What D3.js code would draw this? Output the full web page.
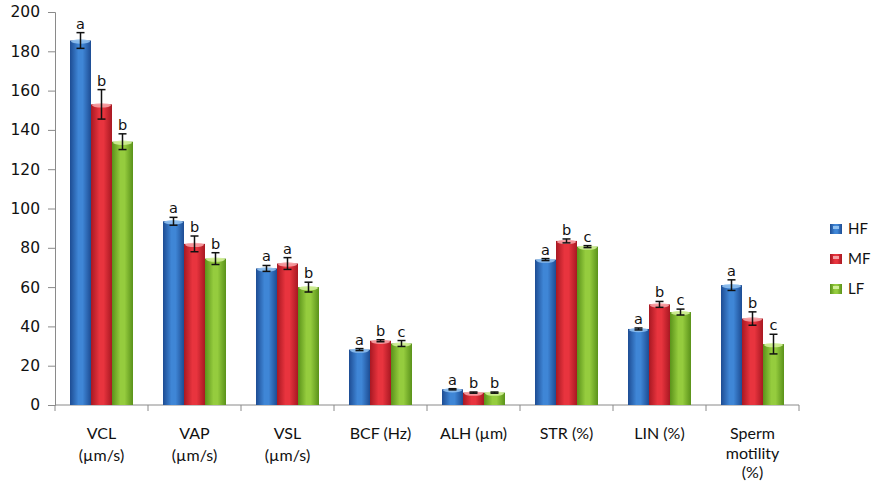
<!DOCTYPE html>
<html><head><meta charset="utf-8">
<script src="https://cdn.jsdelivr.net/npm/d3@7"></script>
<style>body{margin:0;background:#fff}svg{display:block}</style>
</head><body>
<script>
const categories = [["VCL","(µm/s)"],["VAP","(µm/s)"],["VSL","(µm/s)"],["BCF (Hz)"],["ALH (µm)"],["STR (%)"],["LIN (%)"],["Sperm","motility","(%)"]];
const seriesNames = ["HF","MF","LF"];
const HF = [185.5, 93.5, 69.5, 28.2, 8.0, 74.0, 38.7, 61.0];
const MF = [153.0, 82.0, 72.0, 32.7, 6.3, 83.5, 51.2, 44.0];
const LF = [134.0, 74.5, 60.0, 31.3, 6.3, 80.6, 47.3, 31.0];
const HFerr = [4.0, 2.0, 1.5, 0.5, 0.3, 0.5, 0.5, 2.7];
const MFerr = [7.5, 4.0, 3.0, 0.5, 0.3, 1.0, 1.5, 3.4];
const LFerr = [4.0, 3.0, 2.5, 1.5, 0.3, 0.5, 1.5, 5.0];
const HFsig = ["a","a","a","a","a","a","a","a"];
const MFsig = ["b","b","a","b","b","b","b","b"];
const LFsig = ["b","b","b","c","b","c","c","c"];
const yTicks = [0,20,40,60,80,100,120,140,160,180,200];

const W = 877, H = 486;
const svg = d3.select("body").append("svg").attr("width", W).attr("height", H);
const defs = svg.append("defs");
const palette = [
  {edge:"#1d4c93", mid:"#3f86d6", light:"#8fc0f0"},
  {edge:"#a81822", mid:"#e8343e", light:"#f7a0a4"},
  {edge:"#5a921a", mid:"#95cc3e", light:"#d2ef98"}
];
palette.forEach((p,i)=>{
  const g = defs.append("linearGradient").attr("id","g"+i).attr("x1","0").attr("x2","1").attr("y1","0").attr("y2","0");
  g.append("stop").attr("offset","0%").attr("stop-color",p.edge);
  g.append("stop").attr("offset","40%").attr("stop-color",p.mid);
  g.append("stop").attr("offset","60%").attr("stop-color",p.mid);
  g.append("stop").attr("offset","100%").attr("stop-color",p.edge);
});

const x0 = d3.scaleBand().domain(d3.range(categories.length)).range([55, 799]).paddingInner(0).paddingOuter(0);
const x1 = d3.scaleBand().domain(seriesNames).range([15, 78]).padding(0);
const y = d3.scaleLinear().domain([0,200]).range([405, 12]);

// y axis
const yAxis = svg.append("g").attr("transform","translate(55,0)")
  .call(d3.axisLeft(y).tickValues(yTicks).tickSize(7).tickPadding(8));
yAxis.select(".domain").attr("stroke","#8a8a8a");
yAxis.selectAll(".tick line").attr("stroke","#8a8a8a");
yAxis.selectAll("text").attr("font-family","DejaVu Sans, Verdana, sans-serif").attr("font-size",15.5).attr("fill","#111");

// x axis
const xAxisG = svg.append("g").attr("transform","translate(0,405)");
xAxisG.append("line").attr("x1",55).attr("x2",799).attr("y1",0).attr("y2",0).attr("stroke","#8a8a8a");
d3.range(categories.length+1).forEach(i=>{
  const xx = i<categories.length ? x0(i) : x0(categories.length-1)+x0.bandwidth();
  xAxisG.append("line").attr("x1",xx).attr("x2",xx).attr("y1",0).attr("y2",6).attr("stroke","#8a8a8a");
});
categories.forEach((lines,i)=>{
  const t = svg.append("text").attr("x", x0(i)+x0.bandwidth()/2).attr("y", 439)
    .attr("text-anchor","middle").attr("font-family","Lato, 'Open Sans', sans-serif").attr("font-size",16).attr("fill","#111");
  lines.forEach((l,j)=> t.append("tspan").attr("x", x0(i)+x0.bandwidth()/2).attr("dy", j===0?0:(lines.length>2?19.5:22)).text(l));
});

const vals = [HF, MF, LF], errs = [HFerr, MFerr, LFerr], sigs = [HFsig, MFsig, LFsig];
seriesNames.forEach((s,si)=>{
  const g = svg.append("g");
  categories.forEach((c,ci)=>{
    const v = vals[si][ci], e = errs[si][ci];
    const bx = x0(ci)+x1(s), bw = x1.bandwidth();
    g.append("rect").attr("x",bx).attr("y",y(v)).attr("width",bw).attr("height",y(0)-y(v)).attr("fill",`url(#g${si})`);
    g.append("ellipse").attr("cx",bx+bw/2).attr("cy",y(v)+1).attr("rx",bw/2-1).attr("ry",2.2).attr("fill",palette[si].light).attr("opacity",0.9);
    const cx = bx+bw/2;
    g.append("line").attr("x1",cx).attr("x2",cx).attr("y1",y(v+e)).attr("y2",y(v-e)).attr("stroke","#111").attr("stroke-width",1.5);
    [v+e, v-e].forEach(t=> g.append("line").attr("x1",cx-4).attr("x2",cx+4).attr("y1",y(t)).attr("y2",y(t)).attr("stroke","#111").attr("stroke-width",1.5));
    g.append("text").attr("x",cx).attr("y",y(v+e)-4).attr("text-anchor","middle")
      .attr("font-family","DejaVu Sans, Verdana, sans-serif").attr("font-size",14.5).attr("fill","#111").text(sigs[si][ci]);
  });
});

// legend
const leg = svg.append("g");
seriesNames.forEach((s,i)=>{
  const ly = 229 + i*30;
  leg.append("rect").attr("x",830).attr("y",ly-5).attr("width",12).attr("height",10).attr("fill",`url(#g${i})`);
  leg.append("rect").attr("x",833).attr("y",ly-3).attr("width",6).attr("height",3).attr("fill",palette[i].light);
  leg.append("text").attr("x",848).attr("y",ly+5).attr("font-family","Lato, 'Open Sans', sans-serif").attr("font-size",15).attr("fill","#111").text(s);
});
</script>
</body></html>
